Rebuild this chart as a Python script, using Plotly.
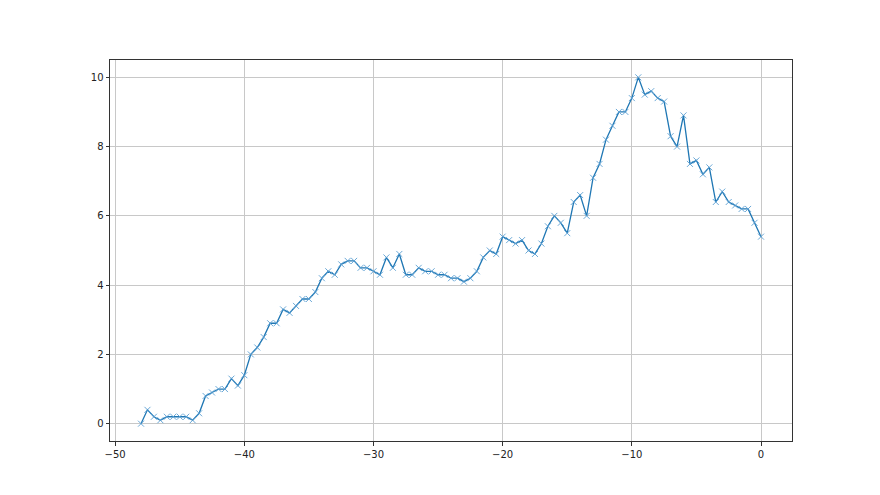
import plotly.graph_objects as go

x_values = [-48 + 0.5 * i for i in range(97)]
y_values = [
    0.0, 0.4, 0.2, 0.1, 0.2, 0.2, 0.2, 0.2, 0.1, 0.3,
    0.8, 0.9, 1.0, 1.0, 1.3, 1.1, 1.4, 2.0, 2.2, 2.5,
    2.9, 2.9, 3.3, 3.2, 3.4, 3.6, 3.6, 3.8, 4.2, 4.4,
    4.3, 4.6, 4.7, 4.7, 4.5, 4.5, 4.4, 4.3, 4.8, 4.5,
    4.9, 4.3, 4.3, 4.5, 4.4, 4.4, 4.3, 4.3, 4.2, 4.2,
    4.1, 4.2, 4.4, 4.8, 5.0, 4.9, 5.4, 5.3, 5.2, 5.3,
    5.0, 4.9, 5.2, 5.7, 6.0, 5.8, 5.5, 6.4, 6.6, 6.0,
    7.1, 7.5, 8.2, 8.6, 9.0, 9.0, 9.4, 10.0, 9.5, 9.6,
    9.4, 9.3, 8.3, 8.0, 8.9, 7.5, 7.6, 7.2, 7.4, 6.4,
    6.7, 6.4, 6.3, 6.2, 6.2, 5.8, 5.4,
]

color = "#1f77b4"

fig = go.Figure()
fig.add_trace(go.Scatter(
    x=x_values, y=y_values, mode="lines+markers",
    line=dict(color=color, width=1.3),
    marker=dict(symbol="x-thin", size=6, line=dict(color="#5b9fd2", width=0.9), color=color),
    showlegend=False,
))

axis_common = dict(
    showline=True, mirror=True, linecolor="#333333", linewidth=1,
    ticks="outside", ticklen=3.5, tickwidth=0.8, tickcolor="#333333",
    showgrid=True, gridcolor="#c8c8c8", gridwidth=1, zeroline=False,
    tickfont=dict(family="DejaVu Sans", size=10, color="#222222"),
)

fig.update_layout(
    width=880, height=495,
    margin=dict(l=102, r=96, t=52, b=62),
    paper_bgcolor="white", plot_bgcolor="white",
    xaxis=dict(range=[-50.4, 2.4], dtick=10, tick0=0, **axis_common),
    yaxis=dict(range=[-0.5, 10.5], dtick=2, tick0=0, **axis_common),
)

fig.write_html("out.html")
